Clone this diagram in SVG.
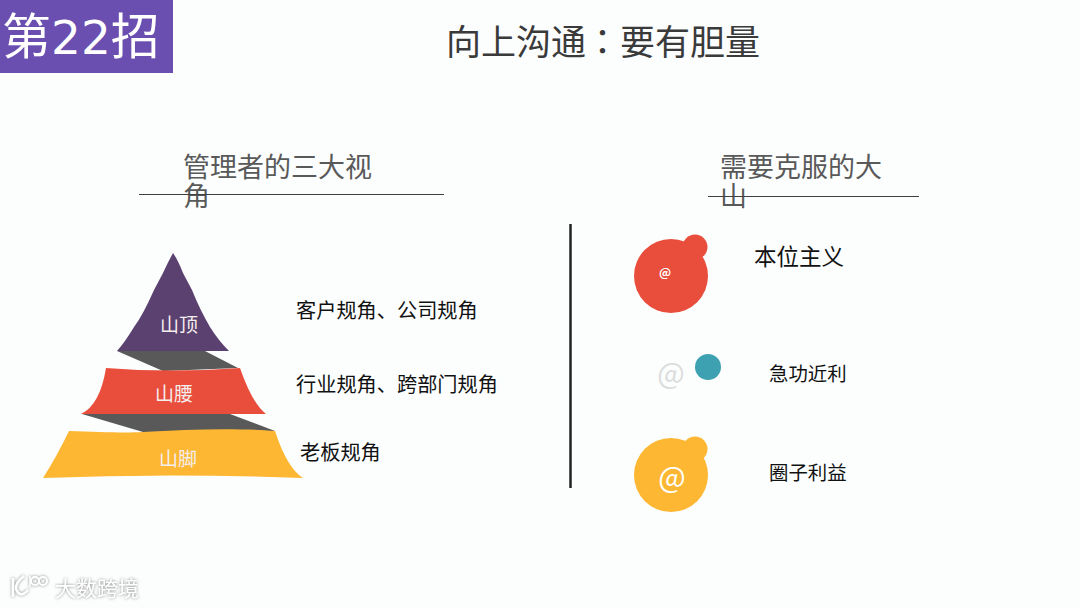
<svg xmlns="http://www.w3.org/2000/svg" width="1080" height="608" viewBox="0 0 1080 608">
<defs>
<filter id="wm" x="-20%" y="-30%" width="140%" height="160%"><feDropShadow dx="0" dy="0" stdDeviation="1.600" flood-color="#808080" flood-opacity="1"/></filter>
</defs>
<style>
text{font-family:"Noto Sans CJK SC","Noto Sans",sans-serif}
.h{font-size:27px;fill:#595959}
.l{font-size:20.200px;fill:#111}
.s{font-size:19.400px;fill:#111}
.m{font-size:19px;fill:#f4eeee;text-anchor:middle}
.rule{stroke:#404040;stroke-width:1;fill:none}
</style>
<rect width="1080" height="608" fill="#fcfefe"/>
<g id="badge"><rect width="173" height="73" fill="#6a4eb0"/><text x="2" y="54" font-size="49" fill="#fff">第<tspan font-family="DejaVu Sans" font-size="47">22</tspan>招</text></g>
<g id="title"><text x="446" y="55" font-size="35" fill="#3a3a3a">向上沟通<tspan dx="-1" font-family="Noto Sans CJK TC">：</tspan>要有胆量</text></g>
<g id="left-header"><text class="h" x="183" y="177">管理者的三大视</text><text class="h" x="183" y="206">角</text><line class="rule" x1="139" y1="194.500" x2="444" y2="194.500"/></g>
<g id="right-header"><text class="h" x="720" y="177">需要克服的大</text><text class="h" x="720" y="206">山</text><line class="rule" x1="708" y1="196.500" x2="919" y2="196.500"/></g>
<g id="connectors">
<line x1="570.500" y1="224" x2="570.500" y2="488" stroke="#222" stroke-width="2.500"/>
<path d="M117 351H205L238 368L163 371Z" fill="#595959"/>
<path d="M82 414H230L275 431L143 432Z" fill="#595959"/>
</g>
<g id="peak"><path d="M173 253Q168 262 163 273L154 290Q143 315 134 327Q125 342 117 351H229Q218 340 210 327Q200 310 192 290L183 273Q178 260 173 253Z" fill="#5b4170"/><text class="m" x="179" y="332">山顶</text></g>
<g id="waist"><path d="M106 368Q170 373 240 368Q252 403 266 414H81Q100 405 106 368Z" fill="#e94e3d"/><text class="m" x="174" y="401">山腰</text></g>
<g id="foot"><path d="M69 431C100 432 125 433 143 432C190 429 240 428 275 431Q287 468 303 478Q170 473 43 478Q57 456 69 431Z" fill="#fdb733"/><text class="m" x="178" y="466">山脚</text></g>
<g id="label-1"><text class="l" x="296" y="318">客户规角、公司规角</text></g>
<g id="label-2"><text class="l" x="296" y="392">行业规角、跨部门规角</text></g>
<g id="label-3"><text class="l" x="300" y="460">老板规角</text></g>
<g id="item-1"><circle cx="671" cy="276" r="37" fill="#e94e3d"/><circle cx="695" cy="247" r="12.500" fill="#e94e3d"/><text x="665" y="277" font-size="12" font-weight="700" fill="#fff" text-anchor="middle">@</text><text x="754" y="265" font-size="22.500" fill="#111">本位主义</text></g>
<g id="item-2"><text x="671" y="384" font-size="29" fill="#dcdcdc" text-anchor="middle">@</text><circle cx="708" cy="367" r="13" fill="#3ea1b2"/><text class="s" x="769" y="381">急功近利</text></g>
<g id="item-3"><circle cx="671" cy="475" r="37" fill="#fdb733"/><circle cx="695" cy="449" r="12.500" fill="#fdb733"/><text x="672" y="488" font-size="29" fill="#fff" text-anchor="middle">@</text><text class="s" x="769" y="480">圈子利益</text></g>
<g id="watermark" filter="url(#wm)"><path d="M13 578V597M28 590Q20 599 16 589Q15 583 24 576" fill="none" stroke="#fff" stroke-width="2.500"/><path d="M30 576V587" fill="none" stroke="#fff" stroke-width="1.500"/><circle cx="35" cy="581" r="4" fill="none" stroke="#fff" stroke-width="1.800"/><circle cx="43" cy="581" r="4" fill="none" stroke="#fff" stroke-width="1.800"/><text x="55" y="596" font-size="21" fill="#fff">大数跨境</text></g>
</svg>
